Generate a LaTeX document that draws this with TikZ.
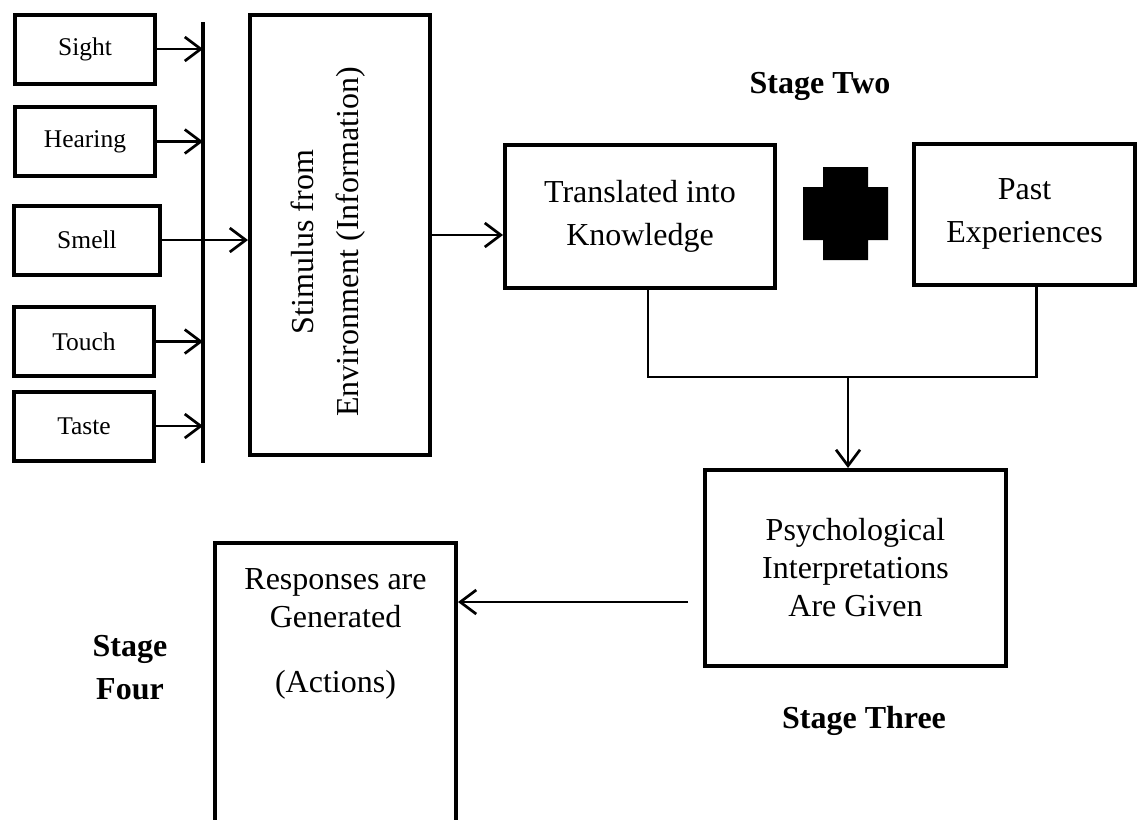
\documentclass[tikz,border=0pt]{standalone}
\usepackage{fontspec}
\setmainfont{Liberation Serif}
\usepackage{tikz}
\usetikzlibrary{arrows.meta}

\begin{document}
\begin{tikzpicture}[
  x=1pt, y=-1pt,
  line width=2.7pt,
  font=\fontsize{32}{38}\selectfont
]
\tikzset{
    sensebox/.style = {rectangle, draw=black, line width=4pt, align=center, minimum width=140pt, minimum height=69pt, inner sep=0pt, font=\fontsize{25.5}{30}\selectfont},
    stagebox/.style = {rectangle, draw=black, line width=4pt, align=center, inner sep=0pt},
    stagename/.style = {align=center, inner sep=0pt, font=\fontsize{32}{43}\selectfont\bfseries},
    conarrow/.style = {-{Straight Barb[length=16pt,width=24pt]}},
}
\useasboundingbox (0,0) rectangle (1139,819);

% stage one: the senses
\node[sensebox] (sight) at (85,49) {Sight};
\node[sensebox] (hearing) at (85,141.5) {Hearing};
\node[sensebox,minimum width=146pt] (smell) at (87,240) {Smell};
\node[sensebox] (touch) at (84,341.5) {Touch};
\node[sensebox] (taste) at (84,426) {Taste};
\coordinate (bustop) at (203,22);
\coordinate (busbot) at (203,463);
\draw[line width=3.3pt] (bustop) -- (busbot);
\draw[conarrow] (sight.east) -- (sight.east -| bustop);
\draw[conarrow] (hearing.east) -- (hearing.east -| bustop);
\draw[conarrow] (touch.east) -- (touch.east -| bustop);
\draw[conarrow] (taste.east) -- (taste.east -| bustop);

\node[stagebox,minimum width=180pt,minimum height=440pt] (stim) at (340,235) {};
\node[rotate=90,align=center,font=\fontsize{32}{45}\selectfont] (stimtext) at (328,242) {Stimulus from\\Environment (Information)};
\draw[conarrow] (smell.east) -- (smell.east -| stim.west);

% stage two
\node[stagename,anchor=base] (stagetwo) at (820,93) {Stage Two};
\node[stagebox,minimum width=270pt,minimum height=143pt,font=\fontsize{32}{43}\selectfont] (trans) at (640,216) {Translated into\\Knowledge};
\node[stagebox,minimum width=221pt,minimum height=141pt,font=\fontsize{32}{43}\selectfont] (past) at (1024.5,214) {Past\\Experiences};
\fill (823,167) -- (868,167) -- (868,187) -- (888,187) -- (888,240) -- (868,240) -- (868,260)
  -- (823,260) -- (823,240) -- (803,240) -- (803,187) -- (823,187) -- cycle;
\draw[conarrow] (stim.east) -- (stim.east -| trans.west);

% stage three
\node[stagebox,minimum width=301pt,minimum height=196pt] (psych) at (855.5,568) {Psychological\\Interpretations\\Are Given};
\node[stagename,anchor=base] (stagethree) at (864,728) {Stage Three};
\coordinate (join) at (848,377);
\draw ([xshift=8pt]trans.south) |- (join) -| ([xshift=12pt]past.south);
\draw[conarrow] (join) -- (join |- psych.north);

% stage four
\node[stagebox,minimum width=241pt,minimum height=357pt] (resp) at (335.5,721.5) {};
\node[align=center,inner sep=0pt,anchor=north] (resptext) at ([yshift=-26pt]resp.north) {Responses are\\Generated\\[27pt](Actions)};
\node[stagename] (stagefour) at (130,668) {Stage\\Four};
\coordinate (psychout) at (688,602);
\draw[conarrow] (psychout) -- (psychout -| resp.east);
\end{tikzpicture}
\end{document}
